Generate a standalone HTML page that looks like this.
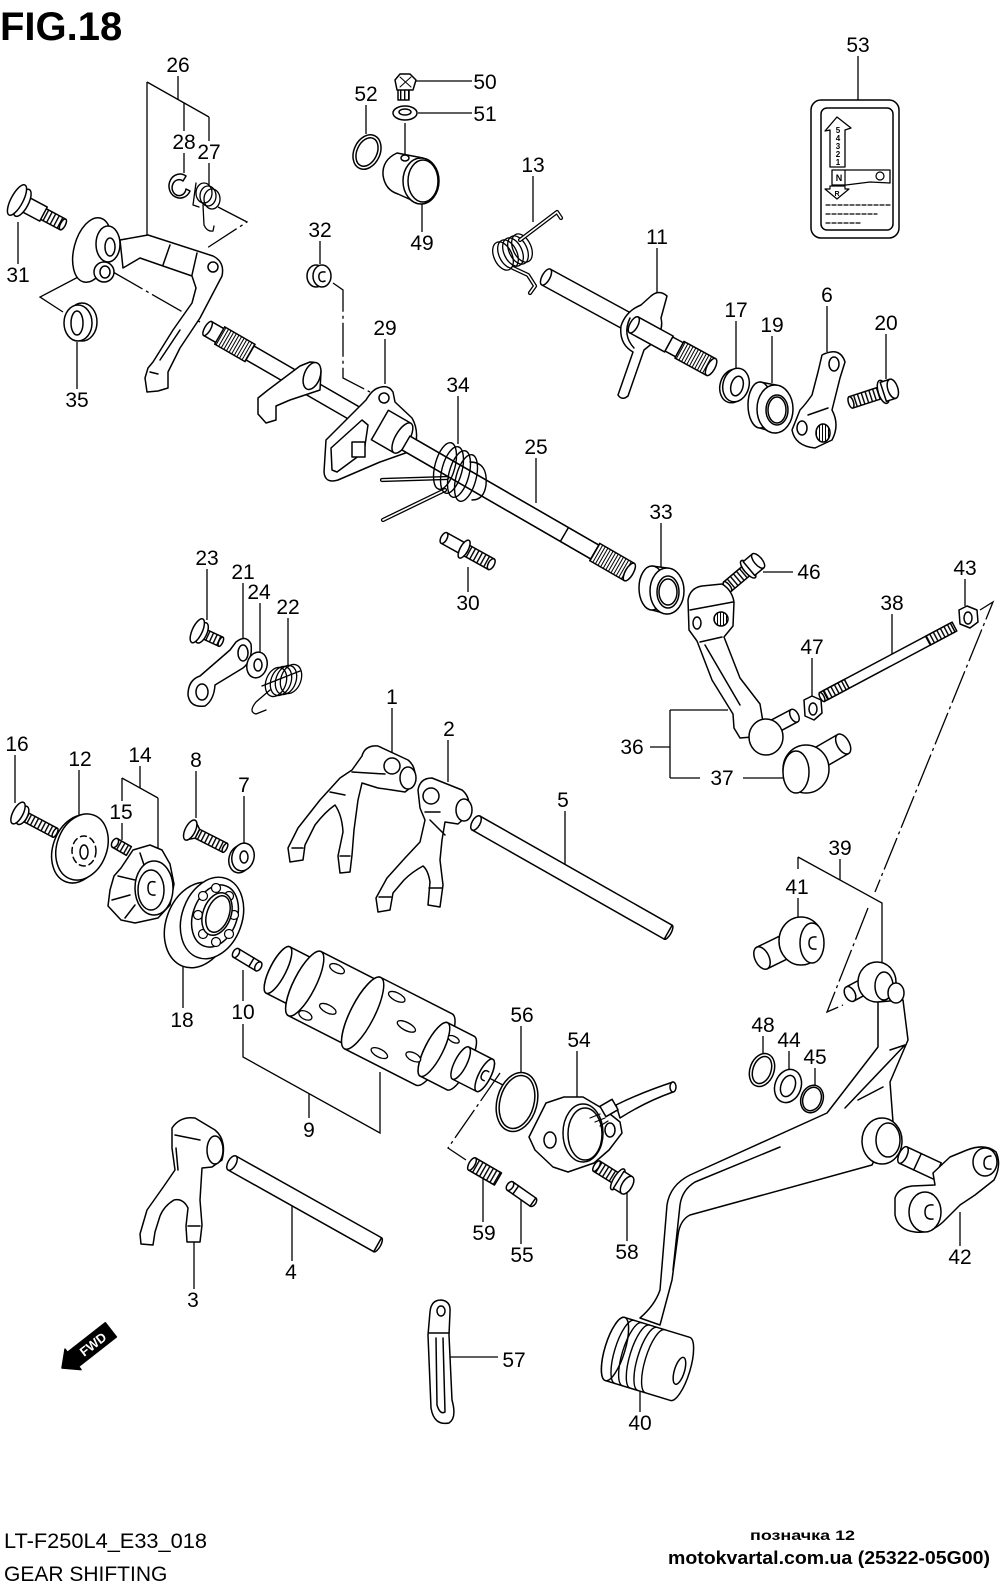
<!DOCTYPE html>
<html><head><meta charset="utf-8">
<style>
html,body{margin:0;padding:0;background:#fff;width:1000px;height:1586px;overflow:hidden}
svg{display:block}
</style></head><body>
<svg width="1000" height="1586" viewBox="0 0 1000 1586" xmlns="http://www.w3.org/2000/svg" font-family="Liberation Sans, Arial, sans-serif">
<defs>
<pattern id="spl" width="3" height="40" patternUnits="userSpaceOnUse"><rect width="3" height="40" fill="#fff"/><rect x="0" width="1" height="40" fill="#000"/></pattern>
<pattern id="thr" width="4" height="40" patternUnits="userSpaceOnUse"><rect width="4" height="40" fill="#fff"/><rect x="0" width="1.4" height="40" fill="#000"/></pattern>
</defs>
<rect width="1000" height="1586" fill="#fff"/>

<g stroke="#000" stroke-width="1.3" fill="none">
<path d="M178,76V99 M147,82L209,117 M147,82V237 M184,103V131 M184,153V173 M209,117V141 M209,163V186"/>
<path d="M18,222V264 M82,275L40,297L63,312 M77,342V389 M366,105V134 M416,81H472 M418,113H472 M405,123V154 M422,204V232 M858,56V100"/>
<path d="M533,176V222 M657,248V294 M320,241V264 M385,339V384 M736,321V368 M772,336V383 M827,306V352 M886,334V379"/>
<path d="M458,396V444 M536,458V503 M661,523V567 M763,572H793 M965,579V606 M892,614V660 M812,658V697"/>
<path d="M207,569V620 M243,583V640 M260,603V653 M288,618V665 M468,567V592 M392,708V753 M448,740V782"/>
<path d="M670,710H728 M670,710V778 M670,778H700 M650,747H670 M743,778H783"/>
<path d="M15,755V803 M79,770V815 M140,766V788 M122,778L158,798 M158,798V848 M122,778V801 M122,823V840 M196,771V818 M244,796V844"/>
<path d="M183,963V1008 M243,970V1001 M243,1024V1057 L380,1133 V1072 M309,1094V1118 M565,811V864"/>
<path d="M798,857L882,903V965 M798,857V869 M840,859V880 M798,898V918"/>
<path d="M521,1026V1072 M577,1051V1098 M763,1036V1054 M789,1051V1069 M815,1068V1085 M960,1212V1246"/>
<path d="M483,1177V1222 M521,1200V1244 M627,1193V1241 M194,1242V1289 M292,1206V1261 M450,1357H498 M640,1380V1412"/>
</g>
<g stroke="#000" stroke-width="1.3" fill="none" stroke-dasharray="34,4,3,4">
<path d="M113,272L200,322"/>
<path d="M218,207L247,222L207,248"/>
<path d="M333,283L343,290V378L370,392"/>
<path d="M980,610L993,602L875,892"/>
<path d="M868,908L827,1012L843,1005"/>
<path d="M500,1073L448,1148L466,1160"/>
</g>

<g fill="#fff" stroke="#000" stroke-width="1.5" stroke-linejoin="round" stroke-linecap="round">

<g transform="translate(17,200) rotate(28)">
<rect x="28" y="-6" width="24" height="12" fill="url(#thr)"/>
<ellipse cx="52" cy="0" rx="2.5" ry="6"/>
<rect x="8" y="-8" width="22" height="16"/>
<ellipse cx="6" cy="0" rx="6" ry="15"/>
<ellipse cx="0" cy="0" rx="6" ry="17"/>
</g>

<path d="M120,240 L148,235 L213,256 Q225,262 222,276 L200,318 L180,348 L168,372 L168,388 L158,391 L147,392 L145,378 L148,368 L153,362 L173,330 L192,303 L196,288 L192,276 L163,266 L140,258 L123,268 Z"/>
<path d="M170,245 L163,265 M197,253 L192,275 M160,360 L180,330 M150,372 L158,374" fill="none"/>
<circle cx="213" cy="267" r="5"/>
<ellipse cx="92" cy="250" rx="18" ry="33" transform="rotate(15 92 250)"/>
<ellipse cx="104" cy="272" rx="10" ry="10"/>
<ellipse cx="105" cy="272" rx="5" ry="6"/>
<ellipse cx="108" cy="244" rx="12" ry="18"/>
<ellipse cx="110" cy="247" rx="5" ry="9"/>

<path d="M186,176 A11 12 0 1 0 190,191 L186,189 A7 8 0 1 1 183,181 Z"/>
<g fill="none" stroke-width="1.3">
<ellipse cx="204" cy="193" rx="8" ry="10"/>
<ellipse cx="208" cy="196" rx="8" ry="10"/>
<ellipse cx="212" cy="199" rx="8" ry="10"/>
<path d="M196,183 L193,205 L199,207 M203,205 L204,225 Q207,232 213,231 L214,226"/>
</g>

<ellipse cx="82" cy="322" rx="15" ry="19"/>
<ellipse cx="78" cy="323" rx="14" ry="18"/>
<ellipse cx="77" cy="323" rx="6" ry="12"/>

<ellipse cx="367" cy="152" rx="13" ry="18" transform="rotate(25 367 152)"/>
<ellipse cx="367" cy="152" rx="10" ry="15" transform="rotate(25 367 152)"/>
<rect x="398" y="89" width="11" height="11" fill="url(#thr)"/>
<polygon points="395,80 400,74 410,74 416,80 413,90 397,90"/>
<path d="M400,77 L411,87 M411,77 L400,87" fill="none" stroke-width="1"/>
<ellipse cx="405" cy="113" rx="12" ry="7"/>
<ellipse cx="405" cy="112" rx="6" ry="3"/>
<path d="M397,153 Q382,160 383,175 Q385,190 398,194 L418,203 L423,158 Z"/>
<ellipse cx="421" cy="181" rx="18" ry="23"/>
<ellipse cx="423" cy="181" rx="15" ry="21" fill="none"/>
<ellipse cx="405" cy="158" rx="4" ry="3"/>

<rect x="811" y="100" width="88" height="138" rx="10"/>
<rect x="821" y="108" width="72" height="122" rx="6"/>
<path d="M830,167 L830,130 L825,131 L837,117 L851,128 L845,130 L845,167 Z" stroke-width="1.3"/>
<g font-size="8" font-weight="bold" fill="#000" stroke="none" text-anchor="middle">
<text x="838" y="133">5</text><text x="838" y="141">4</text><text x="838" y="149">3</text><text x="838" y="157">2</text><text x="838" y="165">1</text>
</g>
<path d="M832,170 L890,170 L890,183 L870,182 L846,185 L832,185 Z" stroke-width="1.3"/>
<line x1="845" y1="170" x2="845" y2="185" stroke-width="1.2"/>
<circle cx="880" cy="176" r="4" stroke-width="1.2"/>
<path d="M830,186 L845,186 L845,189 L849,189 L837,199 L825,189 L830,189 Z" stroke-width="1.2"/>
<g font-size="9" font-weight="bold" fill="#000" stroke="none" text-anchor="middle">
<text x="839" y="181">N</text><text x="837" y="196" font-size="7">R</text>
</g>
<path d="M826,205 H890 M826,214 H877 M826,223 H860" fill="none" stroke-width="1.2" stroke-dasharray="4,2"/>

<ellipse cx="316" cy="276" rx="9" ry="11"/>
<ellipse cx="322" cy="276" rx="9" ry="11"/>
<path d="M325,272 Q318,271 319,278 Q320,283 325,281" fill="none"/>

<g fill="none" stroke-width="1.3">
<ellipse cx="503" cy="256" rx="9" ry="15" transform="rotate(-25 503 256)"/>
<ellipse cx="508" cy="254" rx="9" ry="15" transform="rotate(-25 508 254)"/>
<ellipse cx="513" cy="252" rx="9" ry="15" transform="rotate(-25 513 252)"/>
<ellipse cx="518" cy="250" rx="9" ry="15" transform="rotate(-25 518 250)"/>
<ellipse cx="522" cy="248" rx="9" ry="15" transform="rotate(-25 522 248)"/>
</g>
<path d="M520,240 L557,212 L561,218 M513,268 L528,275 L535,286 L530,293" fill="none" stroke-width="4.2"/>
<path d="M520,240 L557,212 L561,218 M513,268 L528,275 L535,286 L530,293" fill="none" stroke="#fff" stroke-width="1.6"/>

<g transform="translate(546,277) rotate(28.6)">
<rect x="0" y="-9" width="100" height="18"/>
<ellipse cx="0" cy="0" rx="4" ry="9"/>
</g>
<path d="M651,296 Q659,289 667,296 L661,318 Q664,330 654,342 L644,350 L628,396 Q622,401 618,395 L633,352 Q619,344 621,326 Q626,311 641,305 Z"/>
<path d="M630,318 Q622,335 634,348" fill="none"/>
<g transform="translate(546,277) rotate(28.6)">
<rect x="100" y="-9" width="40" height="18"/>
<ellipse cx="100" cy="0" rx="4" ry="9"/>
<rect x="140" y="-8" width="12" height="16"/>
<rect x="152" y="-9.5" width="36" height="19" fill="url(#spl)"/>
<ellipse cx="188" cy="0" rx="4" ry="9.5"/>
</g>

<ellipse cx="733" cy="386" rx="13" ry="17" transform="rotate(15 733 386)"/>
<ellipse cx="736" cy="385" rx="13" ry="17" transform="rotate(15 736 385)"/>
<ellipse cx="737" cy="386" rx="6" ry="10" transform="rotate(15 737 386)"/>
<path d="M760,382 L776,385 L776,433 L760,428 Z"/>
<ellipse cx="760" cy="405" rx="12" ry="23"/>
<ellipse cx="775" cy="409" rx="18" ry="24"/>
<ellipse cx="777" cy="410" rx="11" ry="15"/>
<ellipse cx="777" cy="410" rx="9" ry="13" fill="none"/>
<path d="M822,355 Q840,346 845,362 L840,378 L832,410 Q840,425 832,440 L815,448 Q795,446 792,430 L800,410 Q805,405 812,395 L818,372 Z"/>
<ellipse cx="834" cy="364" rx="5" ry="7"/>
<ellipse cx="802" cy="428" rx="5" ry="7"/>
<ellipse cx="823" cy="433" rx="7" ry="9" fill="url(#spl)"/>
<path d="M808,415 L828,408" fill="none"/>
<g transform="translate(889,390) rotate(-18)">
<rect x="-40" y="-6" width="32" height="12" fill="url(#thr)"/>
<ellipse cx="-40" cy="0" rx="2.5" ry="6"/>
<ellipse cx="-6" cy="0" rx="5" ry="12"/>
<rect x="-6" y="-10" width="10" height="20"/>
<ellipse cx="4" cy="0" rx="5" ry="10"/>
</g>

<g transform="translate(205,327) rotate(30)">
<rect x="3" y="-8" width="489" height="16"/>
<rect x="17" y="-10" width="35" height="20" fill="url(#spl)"/>
<ellipse cx="3" cy="0" rx="3" ry="8"/>
</g>
<path d="M310,362 Q321,362 321,372 L320,390 L290,400 L276,406 L276,420 L266,423 L258,414 L258,398 L268,390 L300,366 Z"/>
<ellipse cx="312" cy="376" rx="8" ry="14" transform="rotate(20 312 376)"/>
<path d="M326,440 L366,400 Q372,390 378,388 Q388,384 393,392 L395,402 L412,418 Q420,432 414,450 L380,462 L338,480 Q325,484 324,472 Z"/>
<path d="M331,448 L362,420 L368,425 L364,452 L337,472 L332,470 Z"/>
<rect x="352" y="442" width="13" height="15"/>
<circle cx="384" cy="398" r="5"/>
<g transform="translate(392,432) rotate(30)">
<rect x="-14" y="-17" width="26" height="34"/>
<ellipse cx="12" cy="0" rx="7" ry="17"/>
</g>
<g transform="translate(205,327) rotate(30)">
<rect x="232" y="-8" width="258" height="16"/>
<line x1="415" y1="-8" x2="415" y2="8"/>
<rect x="450" y="-10" width="40" height="20" fill="url(#spl)"/>
<ellipse cx="490" cy="0" rx="4" ry="10"/>
</g>
<path d="M447,478 L382,480 M445,490 L383,520" fill="none" stroke-width="4.2"/>
<path d="M447,478 L382,480 M445,490 L383,520" fill="none" stroke="#fff" stroke-width="1.6"/>
<g fill="none" stroke-width="1.4">
<ellipse cx="445" cy="466" rx="10" ry="24" transform="rotate(15 445 466)"/>
<ellipse cx="452" cy="470" rx="10" ry="24" transform="rotate(15 452 470)"/>
<ellipse cx="459" cy="474" rx="10" ry="24" transform="rotate(15 459 474)"/>
<ellipse cx="466" cy="478" rx="10" ry="24" transform="rotate(15 466 478)"/>
<path d="M470,462 Q488,462 486,485 Q484,500 472,500"/>
</g>

<g transform="translate(444,538) rotate(29)">
<rect x="24" y="-6" width="30" height="12" fill="url(#thr)"/>
<ellipse cx="54" cy="0" rx="3" ry="6"/>
<rect x="0" y="-6" width="22" height="12"/>
<ellipse cx="0" cy="0" rx="3" ry="6"/>
<ellipse cx="23" cy="0" rx="4" ry="10"/>
</g>

<path d="M652,566 L667,568 L667,614 L652,610 Z"/>
<ellipse cx="652" cy="588" rx="13" ry="22"/>
<ellipse cx="667" cy="591" rx="17" ry="23"/>
<ellipse cx="668" cy="592" rx="11" ry="16"/>
<ellipse cx="668" cy="592" rx="9" ry="13" fill="none"/>
<g transform="translate(752,566) rotate(-40)">
<rect x="-32" y="-6" width="26" height="12" fill="url(#thr)"/>
<ellipse cx="-32" cy="0" rx="2.5" ry="6"/>
<ellipse cx="-5" cy="0" rx="4" ry="11"/>
<rect x="-4" y="-9" width="12" height="18"/>
<ellipse cx="8" cy="0" rx="4" ry="9"/>
</g>
<g transform="translate(775,726) rotate(-28)">
<rect x="0" y="-7" width="22" height="14"/>
<ellipse cx="22" cy="0" rx="4" ry="7"/>
</g>
<path d="M688,600 Q690,588 702,586 L722,584 Q732,590 734,602 L733,626 L724,637 L740,678 L760,704 L763,722 L752,737 L740,738 L734,728 L733,714 L712,680 L697,641 L689,630 Z"/>
<path d="M690,610 L733,602 M705,645 L740,705 M700,642 L722,637" fill="none"/>
<circle cx="721" cy="619" r="7" fill="url(#spl)"/>
<ellipse cx="697" cy="623" rx="4" ry="6"/>
<ellipse cx="766" cy="737" rx="17" ry="18"/>
<g transform="translate(812,762) rotate(-30)">
<rect x="0" y="-11" width="36" height="22"/>
<ellipse cx="36" cy="0" rx="6" ry="11"/>
</g>
<ellipse cx="806" cy="769" rx="23" ry="24"/>
<ellipse cx="796" cy="772" rx="13" ry="21"/>
<g transform="translate(822,697) rotate(-28)">
<rect x="0" y="-5" width="150" height="10"/>
<rect x="4" y="-5" width="24" height="10" fill="url(#thr)"/>
<rect x="120" y="-5" width="28" height="10" fill="url(#thr)"/>
<ellipse cx="0" cy="0" rx="2" ry="5"/>
</g>
<polygon points="804,700 812,696 821,700 822,713 814,720 805,716"/>
<ellipse cx="813" cy="709" rx="4" ry="6"/>
<polygon points="959,610 967,606 977,610 978,622 970,628 960,624"/>
<ellipse cx="968" cy="618" rx="4" ry="6"/>

<g transform="translate(200,632) rotate(25)">
<rect x="6" y="-5" width="17" height="10" fill="url(#thr)"/>
<ellipse cx="23" cy="0" rx="2" ry="5"/>
<ellipse cx="2" cy="0" rx="5" ry="11"/>
<ellipse cx="-3" cy="0" rx="5" ry="13"/>
</g>
<path d="M236,642 Q246,634 251,644 Q253,660 243,668 L215,685 Q214,700 205,706 Q190,708 188,695 Q188,680 200,676 L230,650 Z"/>
<ellipse cx="243" cy="653" rx="5" ry="8"/>
<ellipse cx="202" cy="692" rx="6" ry="8"/>
<ellipse cx="257" cy="665" rx="10" ry="13" transform="rotate(15 257 665)"/>
<ellipse cx="258" cy="665" rx="4" ry="6"/>
<g fill="none" stroke-width="1.3">
<ellipse cx="276" cy="682" rx="10" ry="15" transform="rotate(20 276 682)"/>
<ellipse cx="281" cy="681" rx="10" ry="15" transform="rotate(20 281 681)"/>
<ellipse cx="286" cy="680" rx="10" ry="15" transform="rotate(20 286 680)"/>
<ellipse cx="291" cy="679" rx="10" ry="15" transform="rotate(20 291 679)"/>
<path d="M262,686 L300,671 M270,690 L256,702 Q248,712 256,714 L266,710"/>
</g>

<path d="M362,756 Q365,745 378,746 L408,760 Q418,768 414,785 L405,792 L392,790 L378,788 L362,783 L358,800 L354,830 L352,855 L350,872 L340,873 L338,856 L343,832 Q342,815 335,805 Q325,812 315,825 L305,845 L303,860 L290,862 L288,848 L298,828 L320,800 L340,778 L352,770 Z"/>
<circle cx="392" cy="766" r="8"/>
<ellipse cx="408" cy="778" rx="8" ry="11"/>
<path d="M352,772 L385,774 M330,792 L345,795 M292,848 L303,848 M340,856 L350,856" fill="none"/>
<path d="M418,790 Q420,778 432,778 L462,790 Q472,798 468,815 L458,824 L445,822 L442,840 L440,860 L443,885 L440,907 L428,905 L430,882 Q428,870 423,866 Q412,872 404,880 L393,893 L390,910 L378,912 L376,898 L387,878 L405,858 L420,842 L425,820 L420,808 Z"/>
<circle cx="431" cy="796" r="8"/>
<ellipse cx="464" cy="810" rx="8" ry="11"/>
<path d="M425,812 L440,812 M430,820 L445,835 M379,897 L391,897 M429,888 L442,888" fill="none"/>

<g transform="translate(476,823) rotate(29.6)">
<rect x="0" y="-8" width="221" height="16"/>
<ellipse cx="0" cy="0" rx="4" ry="8"/>
<path d="M221,-8 A3 8 0 0 1 221,8" fill="none"/>
</g>

<g transform="translate(18,813) rotate(28)">
<rect x="10" y="-5" width="32" height="10" fill="url(#thr)"/>
<ellipse cx="42" cy="0" rx="2" ry="5"/>
<ellipse cx="5" cy="0" rx="5" ry="10"/>
<ellipse cx="0" cy="0" rx="5" ry="12"/>
</g>
<ellipse cx="78" cy="849" rx="25" ry="35" transform="rotate(20 78 849)"/>
<ellipse cx="82" cy="847" rx="25" ry="34" transform="rotate(20 82 847)"/>
<ellipse cx="84" cy="851" rx="12" ry="15" fill="none" stroke-dasharray="6,4"/>
<ellipse cx="84" cy="852" rx="4" ry="7"/>
<g transform="translate(115,843) rotate(30)">
<rect x="0" y="-5" width="16" height="10" fill="url(#thr)"/>
<ellipse cx="0" cy="0" rx="3" ry="5"/>
</g>
<path d="M133,850 L150,845 L162,850 L170,864 L174,884 L170,905 L158,918 L135,923 L121,920 L108,906 L110,890 L114,876 L121,868 Z"/>
<path d="M118,876 L135,880 M112,900 L130,895 M125,918 L135,905 M140,853 L145,868" fill="none"/>
<ellipse cx="154" cy="888" rx="19" ry="27"/>
<ellipse cx="151" cy="890" rx="13" ry="20"/>
<path d="M155,882 Q148,880 148,888 Q148,896 155,895" fill="none"/>
<g transform="translate(192,831) rotate(27)">
<rect x="6" y="-5" width="31" height="10" fill="url(#thr)"/>
<ellipse cx="37" cy="0" rx="2" ry="5"/>
<path d="M-2,-11 L6,-5 L6,5 L-2,11"/>
<ellipse cx="-2" cy="0" rx="5" ry="11"/>
</g>
<ellipse cx="240" cy="859" rx="11" ry="14" transform="rotate(15 240 859)"/>
<ellipse cx="243" cy="857" rx="11" ry="14" transform="rotate(15 243 857)"/>
<ellipse cx="244" cy="857" rx="4" ry="6"/>
<ellipse cx="198" cy="925" rx="32" ry="44" transform="rotate(20 198 925)"/>
<ellipse cx="212" cy="918" rx="30" ry="42" transform="rotate(20 212 918)"/>
<ellipse cx="215" cy="916" rx="22" ry="32" transform="rotate(20 215 916)"/>
<g stroke-width="1.2">
<circle cx="234" cy="915" r="4.5"/><circle cx="229" cy="934" r="4.5"/><circle cx="216" cy="942" r="4.5"/><circle cx="203" cy="934" r="4.5"/>
<circle cx="198" cy="915" r="4.5"/><circle cx="203" cy="896" r="4.5"/><circle cx="216" cy="888" r="4.5"/><circle cx="229" cy="896" r="4.5"/>
</g>
<ellipse cx="217" cy="914" rx="14" ry="22" transform="rotate(20 217 914)"/>
<ellipse cx="218" cy="914" rx="11" ry="19" transform="rotate(20 218 914)" fill="none"/>
<g transform="translate(236,953) rotate(31)">
<rect x="0" y="-5" width="26" height="10"/>
<ellipse cx="0" cy="0" rx="3" ry="5"/>
<ellipse cx="26" cy="0" rx="3" ry="5"/>
<line x1="18" y1="-5" x2="18" y2="5"/>
</g>

<g transform="translate(278,970) rotate(27)">
<path d="M0,-26 L30,-26 A8 26 0 0 1 30,26 L0,26 A8 26 0 0 1 0,-26 Z"/>
<ellipse cx="0" cy="0" rx="8" ry="26"/>
<path d="M30,-36 L95,-36 A11 36 0 0 1 95,36 L30,36 A11 36 0 0 1 30,-36 Z"/>
<ellipse cx="30" cy="0" rx="11" ry="36"/>
<path d="M95,-40 L175,-40 A12 40 0 0 1 175,40 L95,40 A12 40 0 0 1 95,-40 Z"/>
<ellipse cx="95" cy="0" rx="12" ry="40"/>
<path d="M175,-30 L205,-30 A9 30 0 0 1 205,30 L175,30 A9 30 0 0 1 175,-30 Z"/>
<ellipse cx="175" cy="0" rx="9" ry="30"/>
<path d="M205,-18 L232,-18 A6 18 0 0 1 232,18 L205,18 Z"/>
<ellipse cx="205" cy="0" rx="6" ry="18"/>
<ellipse cx="232" cy="0" rx="6" ry="18"/>
<path d="M234,-5 Q229,-6 229,0 Q229,6 234,5" fill="none"/>
<g stroke-width="1.3">
<ellipse cx="52" cy="-28" rx="8" ry="4"/>
<ellipse cx="62" cy="12" rx="9" ry="4"/>
<ellipse cx="45" cy="28" rx="7" ry="4"/>
<ellipse cx="118" cy="-30" rx="9" ry="4"/>
<ellipse cx="140" cy="-8" rx="10" ry="4"/>
<ellipse cx="128" cy="28" rx="9" ry="4"/>
<ellipse cx="160" cy="16" rx="8" ry="4"/>
<ellipse cx="188" cy="-18" rx="6" ry="3"/>
</g>
</g>
<line x1="491" y1="1079" x2="503" y2="1085" stroke-width="1.3"/>

<ellipse cx="517" cy="1102" rx="20" ry="30" transform="rotate(15 517 1102)"/>
<ellipse cx="517" cy="1102" rx="17" ry="27" transform="rotate(15 517 1102)"/>
<path d="M616,1105 Q640,1093 673,1082 L673,1092 Q645,1102 620,1118 Z"/>
<ellipse cx="673" cy="1087" rx="3" ry="5"/>
<path d="M529,1137 L546,1103 L564,1097 L583,1097 L605,1110 L620,1122 L622,1133 L609,1150 L594,1163 L568,1172 L553,1167 L535,1150 Z"/>
<ellipse cx="583" cy="1133" rx="20" ry="29"/>
<ellipse cx="585" cy="1134" rx="17" ry="26" fill="none"/>
<ellipse cx="550" cy="1140" rx="6" ry="8"/>
<ellipse cx="610" cy="1130" rx="5" ry="7"/>
<rect x="602" y="1102" width="14" height="12" transform="rotate(-30 609 1108)"/>
<path d="M590,1118 L600,1114 M595,1122 L605,1118 M600,1126 L608,1121" fill="none" stroke-width="1.2"/>
<g transform="translate(472,1164) rotate(30)">
<rect x="0" y="-7" width="30" height="14" fill="url(#thr)"/>
<ellipse cx="0" cy="0" rx="3" ry="7"/>
</g>
<g transform="translate(510,1186) rotate(35)">
<rect x="0" y="-5" width="28" height="10"/>
<ellipse cx="0" cy="0" rx="3" ry="5"/>
<path d="M28,-5 A3 5 0 0 1 28,5" fill="none"/>
<line x1="7" y1="-5" x2="7" y2="5"/>
</g>
<g transform="translate(622,1182) rotate(32)">
<rect x="-30" y="-6" width="24" height="12" fill="url(#thr)"/>
<ellipse cx="-30" cy="0" rx="2.5" ry="6"/>
<ellipse cx="-5" cy="0" rx="4" ry="12"/>
<rect x="-4" y="-10" width="10" height="20"/>
<ellipse cx="6" cy="0" rx="5" ry="10"/>
</g>

<g transform="translate(762,958) rotate(-26)">
<rect x="0" y="-12" width="34" height="24"/>
<ellipse cx="0" cy="0" rx="7" ry="12"/>
</g>
<ellipse cx="801" cy="941" rx="22" ry="24"/>
<ellipse cx="812" cy="943" rx="12" ry="20"/>
<path d="M816,937 Q809,936 809,943 Q809,950 816,949" fill="none"/>

<ellipse cx="762" cy="1070" rx="12" ry="17" transform="rotate(20 762 1070)"/>
<ellipse cx="762" cy="1070" rx="9" ry="14" transform="rotate(20 762 1070)"/>
<ellipse cx="788" cy="1086" rx="13" ry="17" transform="rotate(20 788 1086)"/>
<ellipse cx="788" cy="1086" rx="7" ry="11" transform="rotate(20 788 1086)"/>
<ellipse cx="812" cy="1099" rx="11" ry="14" transform="rotate(20 812 1099)"/>
<ellipse cx="812" cy="1099" rx="9" ry="12" transform="rotate(20 812 1099)"/>

<path d="M878,1002 L878,1047 L827,1113 L690,1175 Q670,1185 667,1205 L660,1290 Q655,1305 640,1318 L660,1325 L672,1280 L678,1235 Q680,1220 690,1215 L872,1165 L893,1122 L890,1082 L908,1040 L903,1000 Z"/>
<path d="M905,1045 L845,1108 M780,1147 L695,1182 Q682,1190 680,1205 L673,1270 M890,1050 L905,1045 M858,1100 L883,1087" fill="none"/>
<g transform="translate(850,994) rotate(-28)">
<rect x="0" y="-8" width="22" height="16"/>
<ellipse cx="0" cy="0" rx="5" ry="8"/>
</g>
<ellipse cx="877" cy="982" rx="19" ry="20"/>
<ellipse cx="884" cy="986" rx="9" ry="14" fill="none"/>
<ellipse cx="896" cy="993" rx="8" ry="10"/>
<ellipse cx="882" cy="1141" rx="20" ry="23"/>
<ellipse cx="888" cy="1140" rx="12" ry="17"/>

<g transform="translate(903,1155) rotate(25)">
<rect x="0" y="-9" width="38" height="18"/>
<ellipse cx="0" cy="0" rx="4" ry="9"/>
<line x1="16" y1="-9" x2="16" y2="9"/>
</g>
<path d="M933,1173 L950,1157 L967,1150 Q985,1143 996,1152 Q1002,1165 994,1180 L975,1195 L960,1205 L943,1222 Q930,1234 915,1232 Q898,1230 895,1215 L895,1198 Q898,1188 912,1186 L935,1185 Z"/>
<ellipse cx="925" cy="1212" rx="16" ry="20"/>
<path d="M933,1205 Q925,1204 925,1212 Q925,1220 933,1219" fill="none"/>
<ellipse cx="985" cy="1162" rx="12" ry="14"/>
<path d="M991,1156 Q984,1156 984,1163 Q984,1170 991,1169" fill="none"/>

<g transform="translate(615,1349) rotate(17)">
<path d="M0,-33 L68,-33 A10 33 0 0 1 68,33 L0,33 A10 33 0 0 1 0,-33 Z"/>
<ellipse cx="0" cy="0" rx="10" ry="33"/>
<path d="M10,-33 A10 33 0 0 0 10,33 M18,-33 A10 33 0 0 0 18,33 M26,-33 A10 33 0 0 0 26,33 M34,-33 A10 33 0 0 0 34,33 M42,-33 A10 33 0 0 0 42,33" fill="none" stroke-width="1.4"/>
<ellipse cx="68" cy="2" rx="5" ry="14"/>
</g>

<path d="M172,1128 Q180,1116 195,1118 L215,1130 Q227,1140 222,1160 L212,1167 L202,1168 L200,1200 L202,1225 L200,1242 L187,1242 L186,1226 L188,1208 Q183,1198 174,1200 Q164,1206 160,1216 L155,1232 L153,1245 L141,1244 L140,1234 L147,1210 L164,1186 L175,1170 L172,1148 Z"/>
<ellipse cx="215" cy="1150" rx="8" ry="14"/>
<path d="M175,1135 L200,1140 M176,1148 L178,1170 M188,1226 L200,1226" fill="none"/>
<g transform="translate(232,1163) rotate(29.3)">
<rect x="0" y="-8" width="167" height="16"/>
<ellipse cx="0" cy="0" rx="4" ry="8"/>
<path d="M167,-8 A3 8 0 0 1 167,8" fill="none"/>
</g>

<path d="M430,1312 Q431,1300 441,1300 Q451,1301 450,1312 L449,1335 L452,1400 Q457,1418 449,1423 Q434,1426 431,1408 L428,1335 Z"/>
<ellipse cx="441" cy="1311" rx="4" ry="5"/>
<path d="M436,1338 L437,1405 Q440,1415 445,1412 L443,1338 M429,1333 H449" fill="none"/>
</g>

<g transform="translate(62,1368) rotate(-38)">
<polygon points="0,0 14,-13 14,-9 62,-9 62,9 14,9 14,13" fill="#000" stroke="#000" stroke-width="1.5" stroke-linejoin="round"/>
<text x="39" y="5" font-size="13" font-weight="bold" fill="#fff" text-anchor="middle">FWD</text>
</g>

<text x="0" y="40" font-size="40" font-weight="bold" fill="#000">FIG.18</text>

<g font-size="21" fill="#000" text-anchor="middle">
<text x="178" y="72">26</text>
<text x="184" y="149">28</text>
<text x="209" y="159">27</text>
<text x="18" y="282">31</text>
<text x="77" y="407">35</text>
<text x="366" y="101">52</text>
<text x="485" y="89">50</text>
<text x="485" y="121">51</text>
<text x="422" y="250">49</text>
<text x="858" y="52">53</text>
<text x="533" y="172">13</text>
<text x="657" y="244">11</text>
<text x="320" y="237">32</text>
<text x="385" y="335">29</text>
<text x="736" y="317">17</text>
<text x="772" y="332">19</text>
<text x="827" y="302">6</text>
<text x="886" y="330">20</text>
<text x="458" y="392">34</text>
<text x="536" y="454">25</text>
<text x="661" y="519">33</text>
<text x="809" y="579">46</text>
<text x="965" y="575">43</text>
<text x="892" y="610">38</text>
<text x="812" y="654">47</text>
<text x="207" y="565">23</text>
<text x="243" y="579">21</text>
<text x="259" y="599">24</text>
<text x="288" y="614">22</text>
<text x="468" y="610">30</text>
<text x="392" y="704">1</text>
<text x="449" y="736">2</text>
<text x="632" y="754">36</text>
<text x="722" y="785">37</text>
<text x="17" y="751">16</text>
<text x="80" y="766">12</text>
<text x="140" y="762">14</text>
<text x="196" y="767">8</text>
<text x="244" y="792">7</text>
<text x="121" y="819">15</text>
<text x="563" y="807">5</text>
<text x="840" y="855">39</text>
<text x="797" y="894">41</text>
<text x="182" y="1027">18</text>
<text x="243" y="1019">10</text>
<text x="522" y="1022">56</text>
<text x="579" y="1047">54</text>
<text x="763" y="1032">48</text>
<text x="789" y="1047">44</text>
<text x="815" y="1064">45</text>
<text x="309" y="1137">9</text>
<text x="960" y="1264">42</text>
<text x="484" y="1240">59</text>
<text x="522" y="1262">55</text>
<text x="627" y="1259">58</text>
<text x="193" y="1307">3</text>
<text x="291" y="1279">4</text>
<text x="514" y="1367">57</text>
<text x="640" y="1430">40</text>
</g>

<g fill="#000">
<text x="4" y="1548" font-size="21" textLength="203" lengthAdjust="spacingAndGlyphs">LT-F250L4_E33_018</text>
<text x="4" y="1581" font-size="21">GEAR SHIFTING</text>
<text x="750" y="1540" font-size="14" font-weight="bold" textLength="105" lengthAdjust="spacingAndGlyphs" font-family="Liberation Sans, DejaVu Sans, sans-serif">позначка 12</text>
<text x="668" y="1564" font-size="18" font-weight="bold" textLength="322" lengthAdjust="spacingAndGlyphs">motokvartal.com.ua (25322-05G00)</text>
</g>
</svg>
</body></html>
